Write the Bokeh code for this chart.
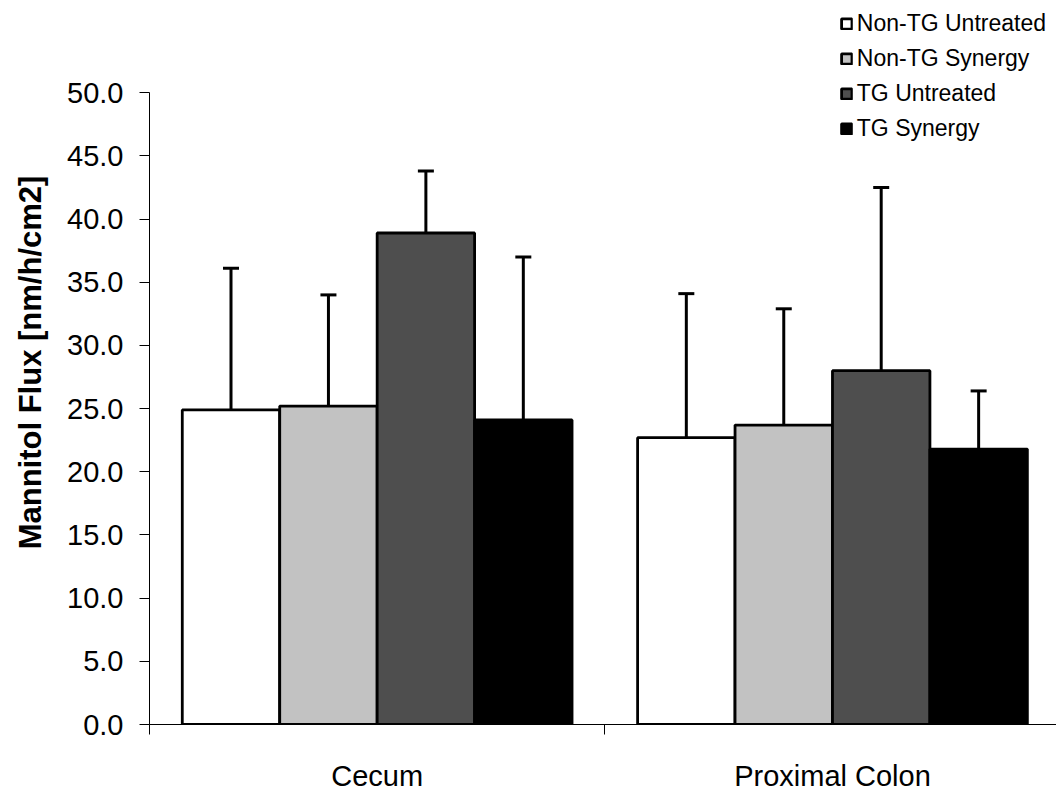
from bokeh.plotting import figure
from bokeh.models import (Range1d, FixedTicker, NumeralTickFormatter, Whisker,
                          TeeHead, ColumnDataSource, Legend, LegendItem)
from bokeh.embed import file_html
from bokeh.resources import INLINE

categories = ["Cecum", "Proximal Colon"]
series = ["Non-TG Untreated", "Non-TG Synergy", "TG Untreated", "TG Synergy"]
non_tg_untreated = [24.9, 22.7]
non_tg_synergy = [25.2, 23.7]
tg_untreated = [38.9, 28.0]
tg_synergy = [24.1, 21.8]
non_tg_untreated_sd = [11.2, 11.4]
non_tg_synergy_sd = [8.8, 9.2]
tg_untreated_sd = [4.9, 14.5]
tg_synergy_sd = [12.9, 4.6]
y_ticks = [0, 5, 10, 15, 20, 25, 30, 35, 40, 45, 50]

values = [non_tg_untreated, non_tg_synergy, tg_untreated, tg_synergy]
sds = [non_tg_untreated_sd, non_tg_synergy_sd, tg_untreated_sd, tg_synergy_sd]
fills = ["#ffffff", "#c2c2c2", "#4e4e4e", "#000000"]

FONT = "Liberation Sans"
bar_w = 0.214

p = figure(width=1056, height=794, output_backend="svg", toolbar_location=None,
           x_range=Range1d(0, 1.992), y_range=Range1d(0, 57.3),
           min_border_left=149, min_border_right=0, min_border_top=0,
           min_border_bottom=62)
p.outline_line_color = None
p.xgrid.visible = False
p.ygrid.visible = False
p.background_fill_color = "white"
p.border_fill_color = "white"

items = []
for i, (name, vals, sd, col) in enumerate(zip(series, values, sds, fills)):
    offset = (i - 1.5) * bar_w
    xs = [k + 0.5 + offset for k in range(len(categories))]
    src = ColumnDataSource(dict(x=xs, top=vals,
                                upper=[v + s for v, s in zip(vals, sd)]))
    r = p.vbar(x="x", top="top", bottom=0, width=bar_w, source=src,
               fill_color=col, line_color="black", line_width=2.8)
    w = Whisker(source=src, base="x", lower="top", upper="upper",
                dimension="height", line_color="black", line_width=3,
                upper_head=TeeHead(size=16, line_width=3, line_color="black"),
                lower_head=None)
    p.add_layout(w)
    items.append(LegendItem(label=name, renderers=[r]))

legend = Legend(items=items, location="top_right")
legend.label_text_font = FONT
legend.label_text_font_size = "23px"
legend.label_text_color = "black"
legend.glyph_width = 13
legend.glyph_height = 13
legend.label_standoff = 4
legend.label_height = 24
legend.spacing = 8
legend.padding = 0
legend.margin = 10
legend.background_fill_alpha = 0
legend.border_line_color = None
p.add_layout(legend)

# y axis
ya = p.yaxis[0]
ya.ticker = FixedTicker(ticks=y_ticks, minor_ticks=[])
ya.formatter = NumeralTickFormatter(format="0.0")
ya.bounds = (0, 50)
ya.major_tick_in = 0
ya.major_tick_out = 10
ya.minor_tick_out = 0
ya.minor_tick_in = 0
ya.major_label_standoff = 16
ya.major_label_text_font = FONT
ya.major_label_text_font_size = "29px"
ya.major_label_text_color = "black"
ya.axis_line_color = "black"
ya.axis_line_width = 1
ya.major_tick_line_color = "black"
ya.axis_label = "Mannitol Flux [nm/h/cm2]"
ya.axis_label_text_font = FONT
ya.axis_label_text_font_size = "31px"
ya.axis_label_text_font_style = "bold"
ya.axis_label_text_color = "black"
ya.axis_label_standoff = 16

# x axis
xa = p.xaxis[0]
xa.ticker = FixedTicker(ticks=[0.5, 1.5], minor_ticks=[0, 1, 2])
xa.major_label_overrides = {0.5: categories[0], 1.5: categories[1]}
xa.major_tick_in = 0
xa.major_tick_out = 0
xa.minor_tick_in = 0
xa.minor_tick_out = 10
xa.minor_tick_line_color = "black"
xa.major_label_standoff = 25
xa.major_label_text_font = FONT
xa.major_label_text_font_size = "29px"
xa.major_label_text_color = "black"
xa.axis_line_color = "black"

open("out.html", "w").write(file_html(p, INLINE))
